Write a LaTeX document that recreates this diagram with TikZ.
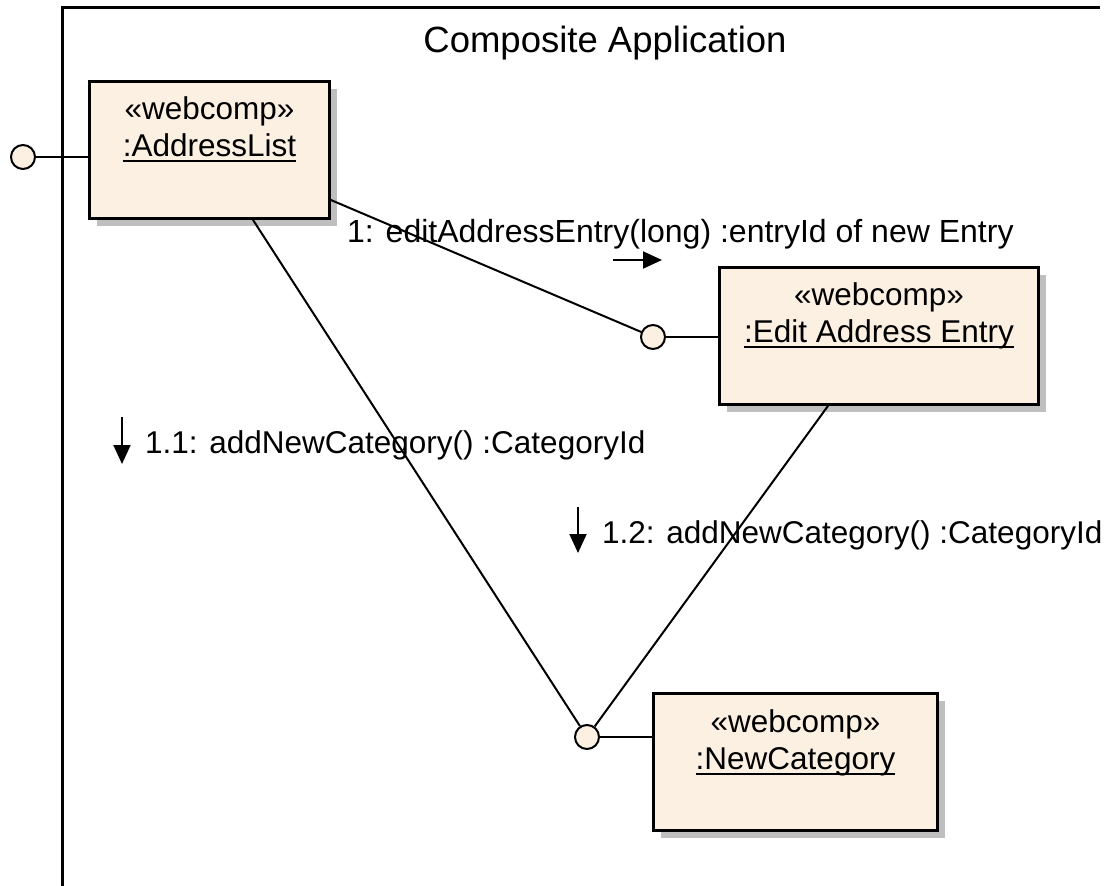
\documentclass[tikz,border=0pt]{standalone}
\usepackage{fontspec}
\setmainfont{Liberation Sans}
\usetikzlibrary{calc,positioning,shadows,arrows.meta}
\definecolor{compfill}{HTML}{FBF0E2}
\newcommand\objul[1]{\setbox0\hbox{#1}\rlap{\copy0}\rule[-5.5pt]{\wd0}{1.8pt}}

\tikzset{
	comp/.style={draw=black, line width=2.8pt, fill=compfill, rectangle, inner sep=0pt,
		minimum height=137pt, drop shadow={shadow xshift=7pt, shadow yshift=-7pt, fill=black!25, opacity=1}},
	port/.style={draw, circle, fill=compfill, line width=2pt, minimum size=24pt, inner sep=0pt},
	link/.style={line width=2pt},
	txt/.style={font=\fontsize{31.5}{37}\selectfont, inner sep=0pt, anchor=base},
	msg/.style={line width=2pt, -{Triangle[length=19pt,width=17pt]}},
}

\begin{document}
\begin{tikzpicture}[x=1pt, y=-1pt]
	\useasboundingbox (0,0) rectangle (1109,886);
	
	%%%%% FRAME %%%%%
	\draw[line width=3pt, line cap=butt] (1100,7) -- (62,7) -- (62,890);
	\node[txt, font=\fontsize{36.5}{44}\selectfont] (title) at (605,52) {Composite Application};
	
	%%%%% COMPONENTS %%%%%
	\node[comp, minimum width=240pt] (al) at (209.5,150) {};
	\node[txt] (al-st) at ($(al.north)+(0,39)$) {«webcomp»};
	\node[txt] (al-nm) at ($(al.north)+(0,76)$) {\objul{:AddressList}};
	
	\node[comp, minimum width=319pt] (ea) at (879,336) {};
	\node[txt] (ea-st) at ($(ea.north)+(0,39)$) {«webcomp»};
	\node[txt] (ea-nm) at ($(ea.north)+(0,76)$) {\objul{:Edit Address Entry}};
	
	\node[comp, minimum width=284pt] (nc) at (795.5,762) {};
	\node[txt] (nc-st) at ($(nc.north)+(0,40)$) {«webcomp»};
	\node[txt] (nc-nm) at ($(nc.north)+(0,77)$) {\objul{:NewCategory}};
	
	%%%%% PORTS %%%%%
	\node[port] (alp) at (23,157) {};
	\draw[link] (alp) -- (al.west |- alp);
	\node[port] (eap) at (653,337) {};
	\draw[link] (eap) -- (ea.west |- eap);
	\node[port] (ncp) at (587,737) {};
	\draw[link] (ncp) -- (nc.west |- ncp);
	
	%%%%% LINKS %%%%%
	\draw[link] ($(al.east)+(0,50)$) -- (eap);
	\draw[link] ($(al.south)+(43.5,0)$) -- (ncp);
	\draw[link] ($(ea.south)+(-51,0)$) -- (ncp);
	
	%%%%% MESSAGES %%%%%
	\node[txt, anchor=base west, font=\fontsize{32}{37}\selectfont] (m1) at (347,242) {1: editAddressEntry(long) :entryId of new Entry};
	\coordinate (m1a) at (613,260);
	\draw[msg] (m1a) -- ++(49,0);
	
	\node[txt, anchor=base west] (m11) at (145,453) {1.1: addNewCategory() :CategoryId};
	\coordinate (m11a) at (122,417);
	\draw[msg] (m11a) -- ++(0,47);
	
	\node[txt, anchor=base west] (m12) at (602,543) {1.2: addNewCategory() :CategoryId};
	\coordinate (m12a) at (578,507);
	\draw[msg] (m12a) -- ++(0,46);
\end{tikzpicture}
\end{document}
